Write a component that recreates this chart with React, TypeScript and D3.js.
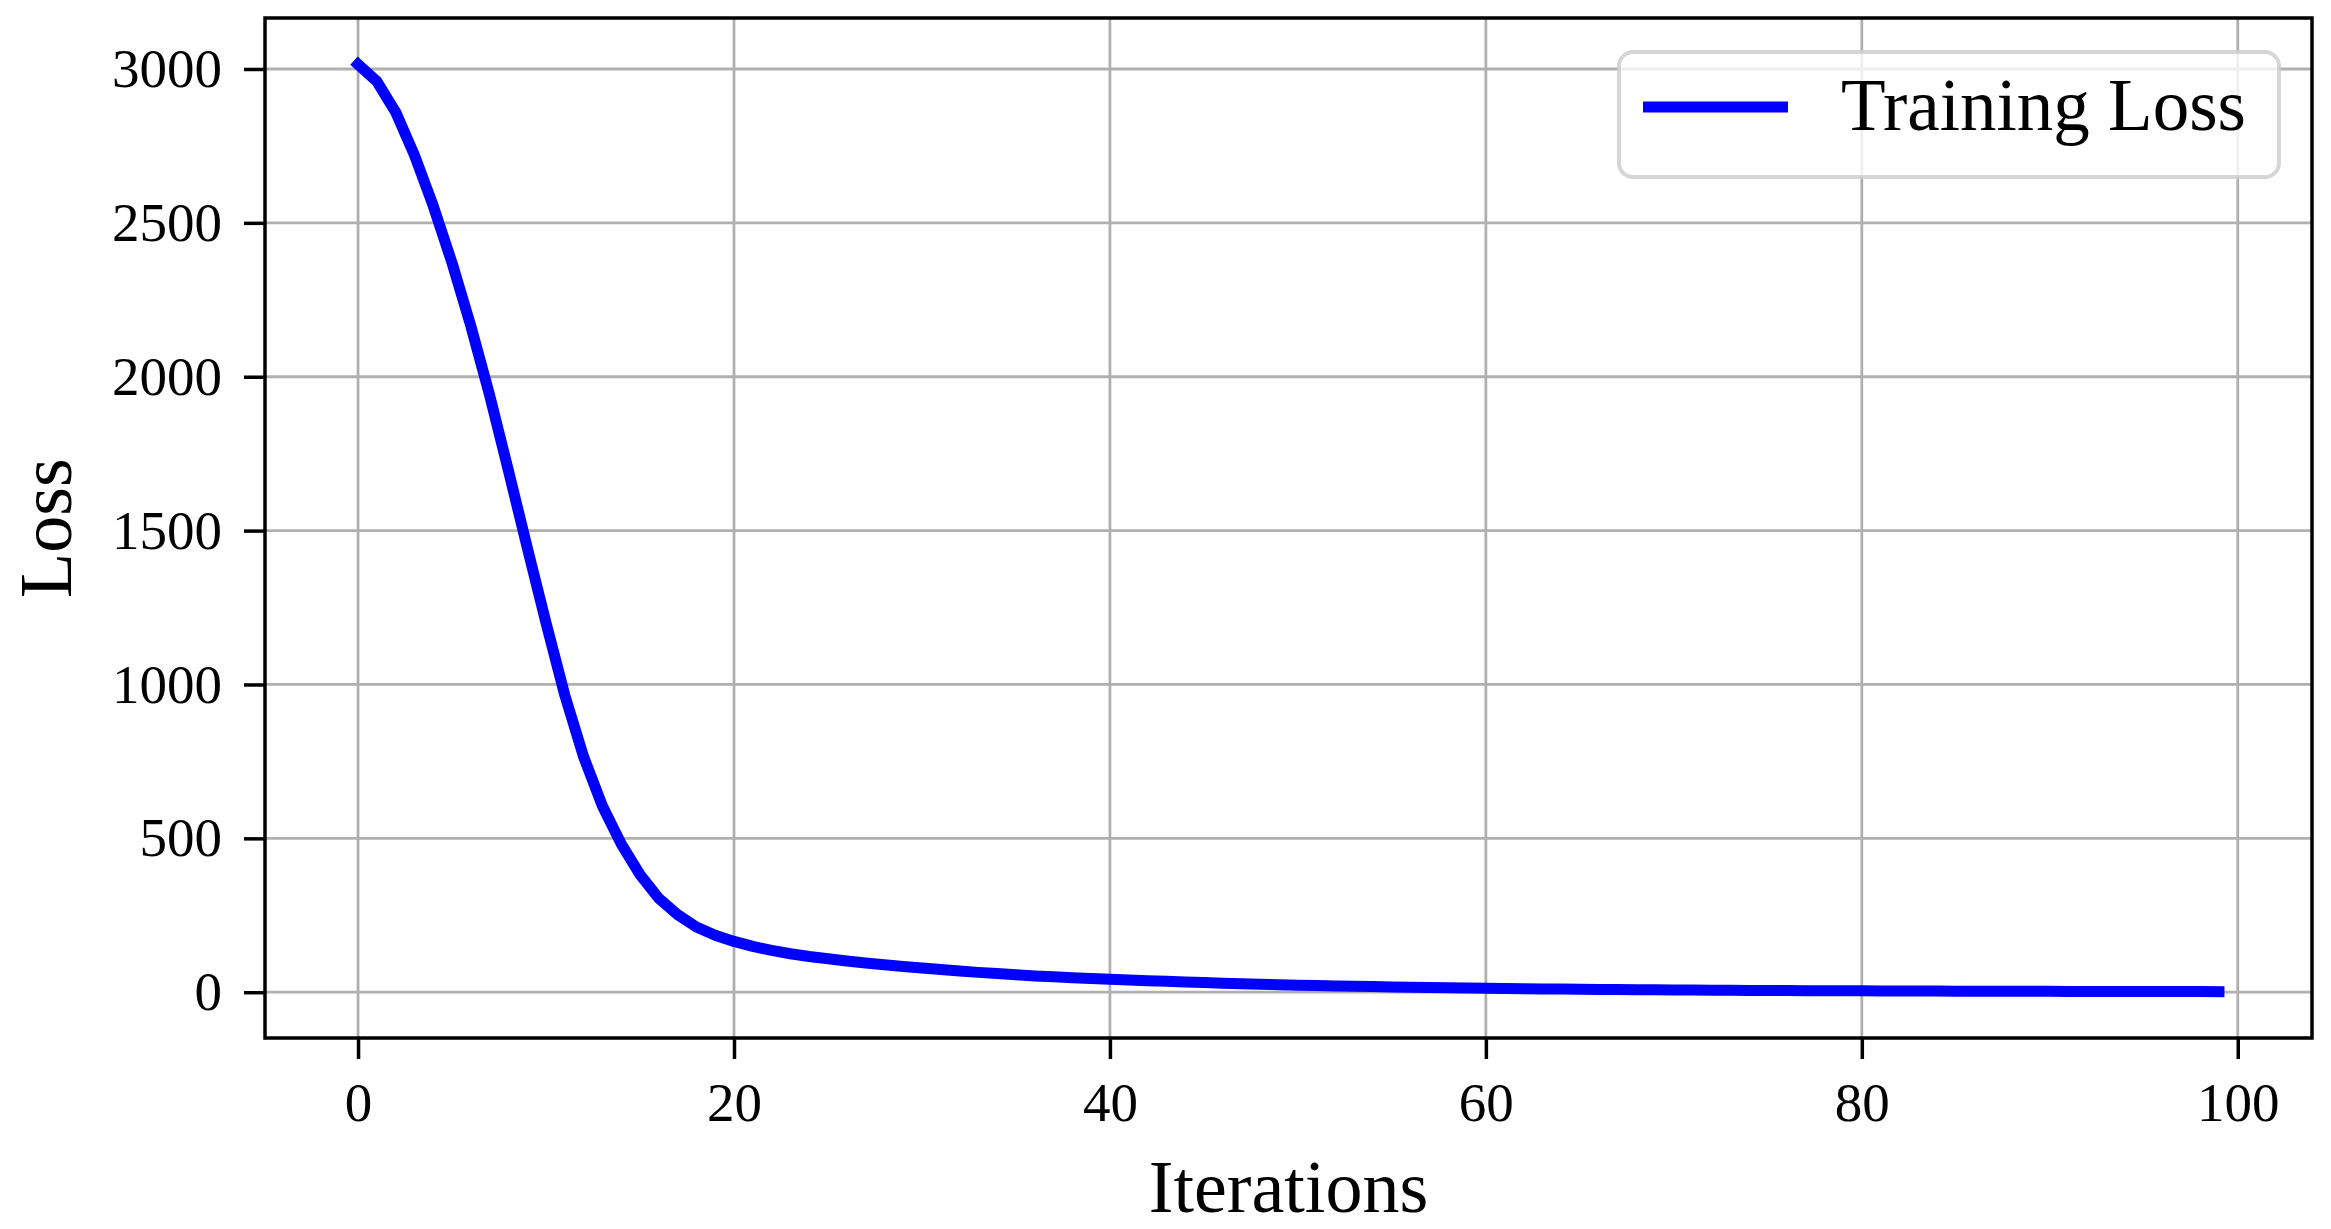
import React, { useRef, useEffect } from 'react';
import * as d3 from 'd3';

// loss, one value per iteration (0..99)
const iterations = d3.range(0, 100);
const trainingLoss = [
  3015, 2960, 2860, 2720, 2555, 2370, 2165, 1940, 1695, 1445,
  1200, 965, 765, 605, 482, 382, 305, 252, 212, 185,
  165, 149, 136, 125, 116, 108.5, 101.5, 95, 89, 83.5,
  78.5, 73.5, 69, 64.5, 60.5, 56.5, 53, 50, 47, 44.5,
  42, 39.5, 37.5, 35.5, 33.5, 31.5, 29.5, 27.5, 26, 24.5,
  23, 21.7, 20.5, 19.3, 18.2, 17.2, 16.2, 15.3, 14.4, 13.6,
  12.8, 12.1, 11.4, 10.8, 10.2, 9.6, 9.1, 8.6, 8.1, 7.7,
  7.3, 6.9, 6.5, 6.2, 5.9, 5.6, 5.3, 5, 4.8, 4.6,
  4.4, 4.2, 4, 3.8, 3.6, 3.45, 3.3, 3.15, 3, 2.9,
  2.8, 2.7, 2.6, 2.5, 2.4, 2.3, 2.2, 2.1, 2, 1.9,
];
const xTicks = [0, 20, 40, 60, 80, 100];
const yTicks = [0, 500, 1000, 1500, 2000, 2500, 3000];
const legendLabel = 'Training Loss';

const FONT = "'Liberation Serif', 'Times New Roman', serif";

const App = () => {
  const svgRef = useRef<SVGSVGElement>(null);

  useEffect(() => {
    const svg = d3.select(svgRef.current);
    svg.selectAll('*').remove();

    const left = 265, right = 2312, top = 18, bottom = 1038;

    // matplotlib style 5% margins around the data
    const xMin = d3.min(iterations)!, xMax = d3.max(iterations)!;
    const yMin = d3.min(trainingLoss)!, yMax = d3.max(trainingLoss)!;
    const xPad = (xMax - xMin) * 0.05, yPad = (yMax - yMin) * 0.05;

    const x = d3.scaleLinear().domain([xMin - xPad, xMax + xPad]).range([left, right]);
    const y = d3.scaleLinear().domain([yMin - yPad, yMax + yPad]).range([bottom, top]);

    // grid
    const grid = svg.append('g').attr('class', 'grid');
    grid.selectAll('line.gx')
      .data(xTicks)
      .enter()
      .append('line')
      .attr('x1', (d) => x(d)).attr('x2', (d) => x(d))
      .attr('y1', top).attr('y2', bottom)
      .style('stroke', '#b0b0b0')
      .style('stroke-width', 2.8);
    grid.selectAll('line.gy')
      .data(yTicks)
      .enter()
      .append('line')
      .attr('x1', left).attr('x2', right)
      .attr('y1', (d) => y(d)).attr('y2', (d) => y(d))
      .style('stroke', '#b0b0b0')
      .style('stroke-width', 2.8);

    // curve
    const line = d3.line<number>()
      .x((d, i) => x(iterations[i]))
      .y((d) => y(d));

    svg.append('path')
      .datum(trainingLoss)
      .attr('d', line)
      .style('fill', 'none')
      .style('stroke', '#0000ff')
      .style('stroke-width', 11)
      .style('stroke-linejoin', 'round')
      .style('stroke-linecap', 'square');

    // axes
    const xAxis = svg.append('g')
      .attr('transform', `translate(0, ${bottom})`)
      .call(d3.axisBottom(x).tickValues(xTicks).tickSize(21).tickPadding(22).tickFormat(d3.format('d')));
    const yAxis = svg.append('g')
      .attr('transform', `translate(${left}, 0)`)
      .call(d3.axisLeft(y).tickValues(yTicks).tickSize(21).tickPadding(22).tickFormat(d3.format('d')));

    [xAxis, yAxis].forEach((a) => {
      a.select('.domain').remove();
      a.selectAll('.tick line').style('stroke', '#000').style('stroke-width', 3.5);
      a.selectAll('.tick text')
        .style('font-family', FONT)
        .style('font-size', '55px')
        .style('fill', '#000');
    });
    xAxis.selectAll('.tick text').attr('dy', '0.72em');

    // frame
    svg.append('rect')
      .attr('x', left).attr('y', top)
      .attr('width', right - left).attr('height', bottom - top)
      .style('fill', 'none')
      .style('stroke', '#000')
      .style('stroke-width', 3.5);

    // axis labels
    svg.append('text')
      .attr('x', (left + right) / 2)
      .attr('y', 1212)
      .attr('text-anchor', 'middle')
      .style('font-family', FONT)
      .style('font-size', '74px')
      .text('Iterations');

    svg.append('text')
      .attr('transform', `translate(71, ${(top + bottom) / 2}) rotate(-90)`)
      .attr('text-anchor', 'middle')
      .style('font-family', FONT)
      .style('font-size', '74px')
      .text('Loss');

    // legend
    const legend = svg.append('g').attr('class', 'legend');
    legend.append('rect')
      .attr('x', 1619).attr('y', 52)
      .attr('width', 660).attr('height', 125)
      .attr('rx', 14)
      .style('fill', '#fff')
      .style('fill-opacity', 0.8)
      .style('stroke', '#cccccc')
      .style('stroke-opacity', 0.8)
      .style('stroke-width', 4);
    legend.append('line')
      .attr('x1', 1643).attr('x2', 1788)
      .attr('y1', 107).attr('y2', 107)
      .style('stroke', '#0000ff')
      .style('stroke-width', 11);
    legend.append('text')
      .attr('x', 1841)
      .attr('y', 130)
      .style('font-family', FONT)
      .style('font-size', '73px')
      .text(legendLabel);
  }, []);

  return (
    <svg
      ref={svgRef}
      width={2331}
      height={1229}
      style={{ position: 'absolute', left: 0, top: 0, background: '#fff' }}
    />
  );
};

export default App;
